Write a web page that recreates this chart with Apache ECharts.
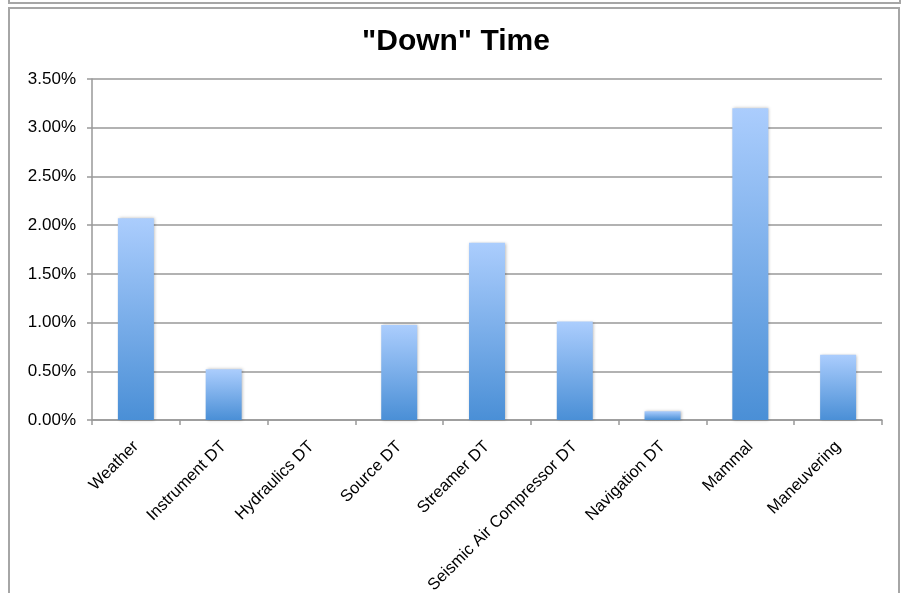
<!DOCTYPE html>
<html>
<head>
<meta charset="utf-8">
<script src="https://cdn.jsdelivr.net/npm/echarts@6/dist/echarts.min.js"></script>
<style>
  html, body { margin: 0; padding: 0; background: #fff; }
  #chart { width: 903px; height: 593px; }
</style>
</head>
<body>
<div id="chart"></div>
<script>
// Share of total time lost to each cause
const categories = ['Weather', 'Instrument DT', 'Hydraulics DT', 'Source DT', 'Streamer DT',
  'Seismic Air Compressor DT', 'Navigation DT', 'Mammal', 'Maneuvering'];
const downTime = [0.0207, 0.0052, 0, 0.00975, 0.0182, 0.0101, 0.0009, 0.0320, 0.0067];
const yTicks = { min: 0, max: 0.035, interval: 0.005 };

const chart = echarts.init(document.getElementById('chart'), null, { renderer: 'canvas' });
const font = 'Liberation Sans, Arial, Helvetica, sans-serif';

chart.setOption({
  animation: false,
  backgroundColor: '#ffffff',
  title: {
    text: '"Down" Time',
    left: 357,
    top: 22,
    textStyle: { fontFamily: font, fontSize: 30, fontWeight: 'bold', color: '#000' }
  },
  graphic: [
    { type: 'rect', shape: { x: 9, y: -10, width: 891, height: 13 },
      style: { fill: 'none', stroke: '#a6a6a6', lineWidth: 2 } },
    { type: 'rect', shape: { x: 9, y: 8, width: 890, height: 600 },
      style: { fill: 'none', stroke: '#a6a6a6', lineWidth: 2 } }
  ],
  grid: { left: 92, right: 21, top: 79, bottom: 173, containLabel: false, outerBoundsMode: 'none' },
  xAxis: {
    type: 'category',
    data: categories,
    boundaryGap: true,
    axisLine: { lineStyle: { color: '#999', width: 1.5 } },
    axisTick: { show: true, alignWithLabel: false, length: 5, lineStyle: { color: '#999', width: 1.5 } },
    axisLabel: {
      interval: 0,
      rotate: 45,
      margin: 24,
      color: '#000',
      fontFamily: font,
      fontSize: 16.5
    }
  },
  yAxis: {
    type: 'value',
    min: yTicks.min,
    max: yTicks.max,
    interval: yTicks.interval,
    axisLine: { show: true, lineStyle: { color: '#999', width: 1.5 } },
    axisTick: { show: true, length: 5, lineStyle: { color: '#999', width: 1.5 } },
    splitLine: { lineStyle: { color: '#999', width: 1.5 } },
    axisLabel: {
      margin: 16,
      color: '#000',
      fontFamily: font,
      fontSize: 17,
      formatter: v => (v * 100).toFixed(2) + '%'
    }
  },
  series: [{
    type: 'bar',
    data: downTime,
    barWidth: '41%',
    itemStyle: {
      color: new echarts.graphic.LinearGradient(0, 0, 0, 1, [
        { offset: 0, color: '#abcdfd' },
        { offset: 1, color: '#4a8fd6' }
      ]),
      shadowColor: 'rgba(0,0,0,0.28)',
      shadowBlur: 3,
      shadowOffsetX: 1,
      shadowOffsetY: 0
    }
  }]
});
</script>
</body>
</html>
